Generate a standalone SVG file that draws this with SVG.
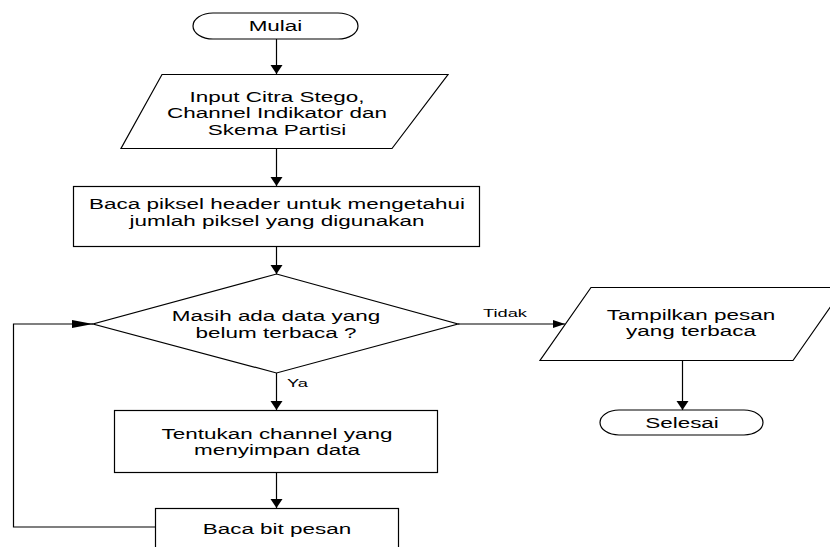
<svg xmlns="http://www.w3.org/2000/svg" width="830" height="547" viewBox="0 0 830 547">
  <style>
    .shape { fill: #fff; stroke: #000; stroke-width: 1.2; }
    .line { fill: none; stroke: #000; stroke-width: 1.2; }
    .t { font-family: "Liberation Sans", Arial, sans-serif; font-size: 14.5px; fill: #000; text-anchor: middle; }
    .lbl { font-family: "Liberation Sans", Arial, sans-serif; font-size: 11.5px; fill: #000; }
  </style>
  <defs>
    <marker id="arrV" markerUnits="userSpaceOnUse" markerWidth="14" markerHeight="14" refX="9" refY="6" orient="auto" overflow="visible">
      <path d="M0,0 L9,6 L0,12 z" fill="#000"/>
    </marker>
    <marker id="arrH" markerUnits="userSpaceOnUse" markerWidth="14" markerHeight="10" refX="12" refY="4" orient="auto" overflow="visible">
      <path d="M0,0 L12,4 L0,8 z" fill="#000"/>
    </marker>
    <marker id="arrLong" markerUnits="userSpaceOnUse" markerWidth="22" markerHeight="10" refX="21" refY="4" orient="auto" overflow="visible">
      <path d="M0,0 L21,4 L0,8 z" fill="#000"/>
    </marker>
  </defs>
  <rect width="830" height="547" fill="#fff"/>

  <g id="connectors">
    <path class="line" d="M276.5,39 V74" marker-end="url(#arrV)"/>
    <path class="line" d="M276.5,149 V186" marker-end="url(#arrV)"/>
    <path class="line" d="M276.5,246 V274" marker-end="url(#arrV)"/>
    <path class="line" d="M276.5,373 V410" marker-end="url(#arrV)"/>
    <path class="line" d="M276.5,473 V508" marker-end="url(#arrV)"/>
    <path class="line" d="M155,527 H13.5 V324 H93" marker-end="url(#arrLong)"/>
    <path class="line" d="M458,324 H565" marker-end="url(#arrH)"/>
    <path class="line" d="M682.5,360 V410" marker-end="url(#arrV)"/>
    <text class="lbl" x="483" y="317" textLength="44" lengthAdjust="spacingAndGlyphs">Tidak</text>
    <text class="lbl" x="287" y="387" textLength="21" lengthAdjust="spacingAndGlyphs">Ya</text>
  </g>

  <g id="mulai">
    <rect class="shape" x="193" y="13" width="165" height="26" rx="20" ry="13"/>
    <g transform="translate(275.5,0) scale(1.55,1)"><text class="t" x="0" y="31">Mulai</text></g>
  </g>

  <g id="input">
    <polygon class="shape" points="162,74.5 448,74.5 392,148.5 121,148.5"/>
    <g transform="translate(277,0) scale(1.55,1)">
      <text class="t" x="0" y="102">Input Citra Stego,</text>
      <text class="t" x="0" y="118.5">Channel Indikator dan</text>
      <text class="t" x="0" y="135">Skema Partisi</text>
    </g>
  </g>

  <g id="baca-header">
    <rect class="shape" x="73.5" y="186.5" width="406" height="60"/>
    <g transform="translate(277,0) scale(1.55,1)">
      <text class="t" x="0" y="209">Baca piksel header untuk mengetahui</text>
      <text class="t" x="0" y="226">jumlah piksel yang digunakan</text>
    </g>
  </g>

  <g id="cek-data">
    <polygon class="shape" points="276.5,274 458,324 276.5,373 93,324"/>
    <g transform="translate(276,0) scale(1.55,1)">
      <text class="t" x="0" y="321">Masih ada data yang</text>
      <text class="t" x="0" y="338">belum terbaca ?</text>
    </g>
  </g>

  <g id="tentukan">
    <rect class="shape" x="114.5" y="410.5" width="323" height="62"/>
    <g transform="translate(277,0) scale(1.55,1)">
      <text class="t" x="0" y="439">Tentukan channel yang</text>
      <text class="t" x="0" y="455">menyimpan data</text>
    </g>
  </g>

  <g id="baca-bit">
    <rect class="shape" x="155.5" y="508.5" width="243" height="60"/>
    <g transform="translate(277,0) scale(1.55,1)">
      <text class="t" x="0" y="534">Baca bit pesan</text>
    </g>
  </g>

  <g id="tampilkan">
    <polygon class="shape" points="591,287.5 844,287.5 793,360.5 540,360.5"/>
    <g transform="translate(691,0) scale(1.55,1)">
      <text class="t" x="0" y="320">Tampilkan pesan</text>
      <text class="t" x="0" y="336">yang terbaca</text>
    </g>
  </g>

  <g id="selesai">
    <rect class="shape" x="600" y="410" width="163" height="25" rx="19" ry="12.5"/>
    <g transform="translate(682,0) scale(1.55,1)"><text class="t" x="0" y="428">Selesai</text></g>
  </g>
</svg>
